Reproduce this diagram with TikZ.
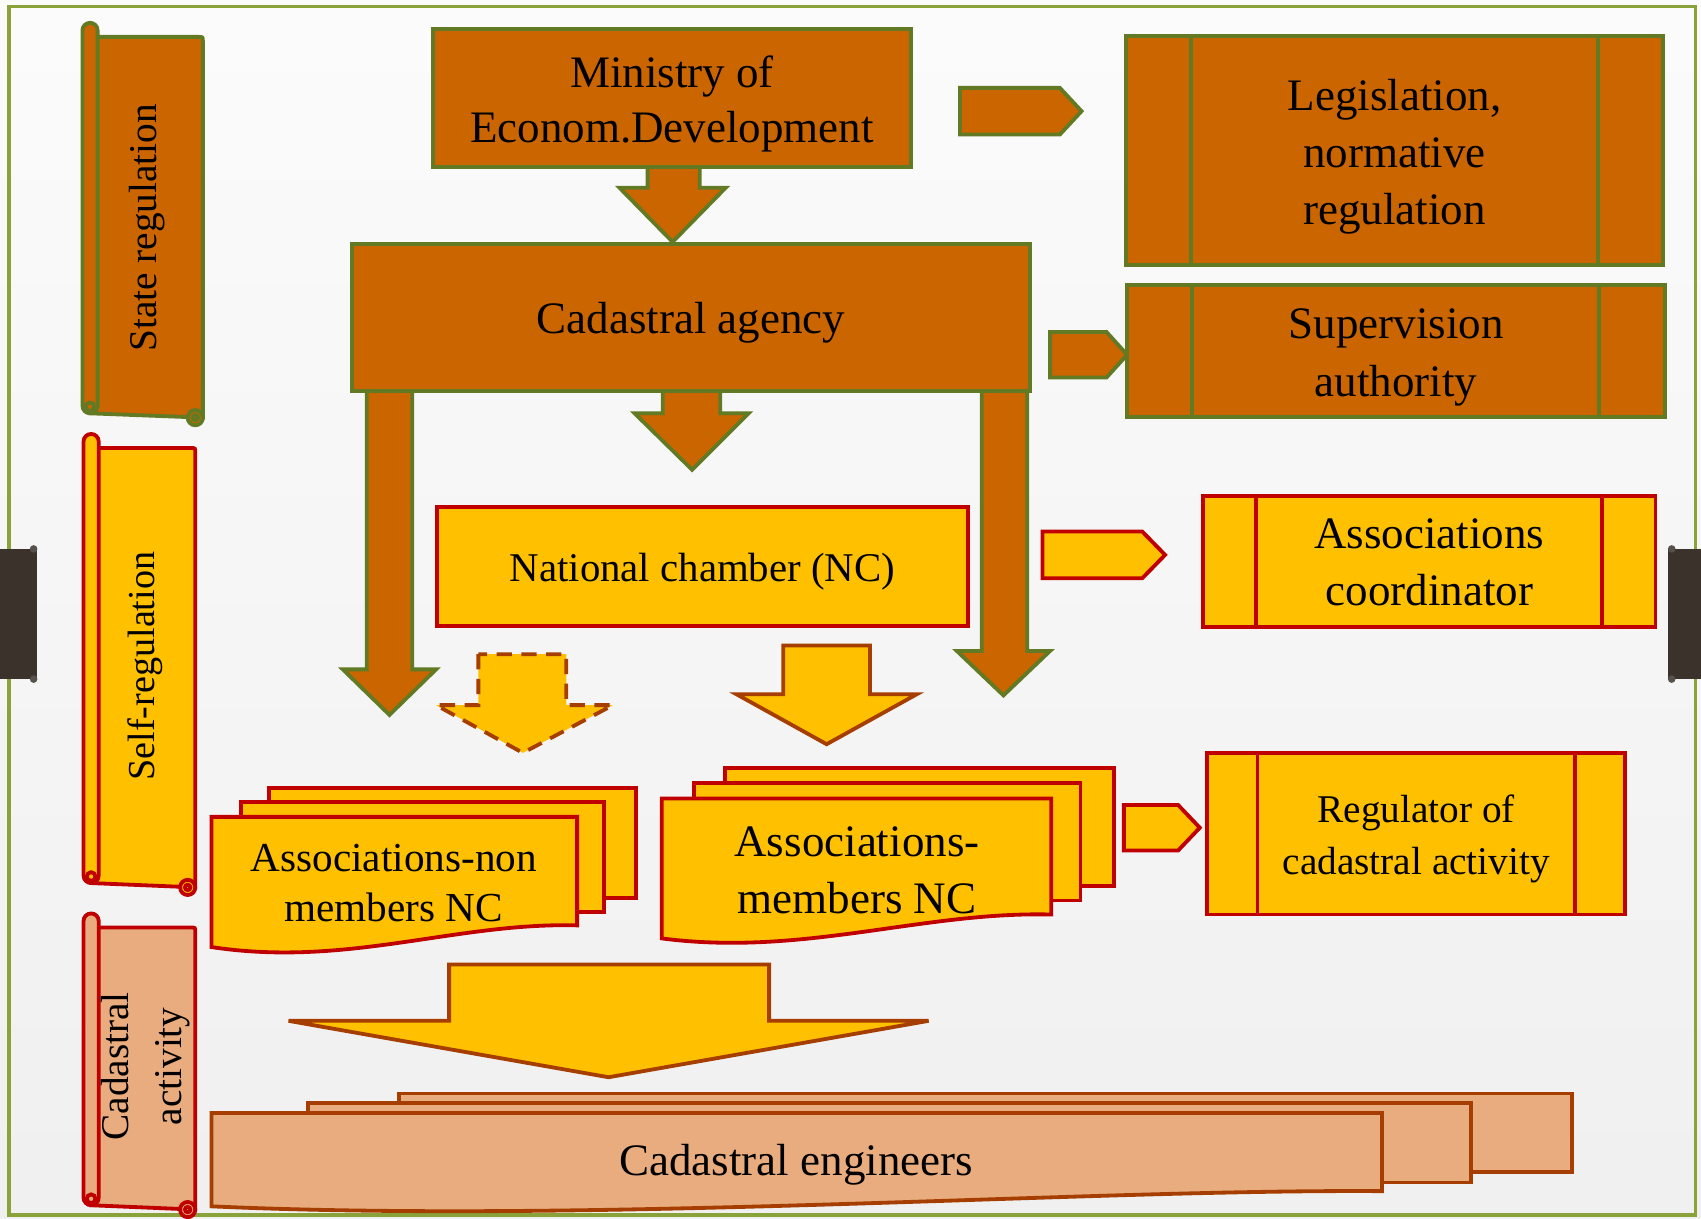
\documentclass[tikz,border=0pt]{standalone}
\usepackage{fontspec}
\setmainfont{Liberation Serif}
\definecolor{orng}{RGB}{202,101,0}
\definecolor{olv}{RGB}{98,122,36}
\definecolor{yel}{RGB}{255,192,0}
\definecolor{rd}{RGB}{192,0,0}
\definecolor{slm}{RGB}{232,172,126}
\definecolor{brn}{RGB}{165,62,0}
\definecolor{frm}{RGB}{137,163,58}
\definecolor{tabc}{RGB}{58,50,43}
\newcommand\fs[2]{\fontsize{#1}{#2}\selectfont}
% vertical scroll: #1 x left, #2 y top of roll, #3 x right, #4 y body bottom, #5 fill, #6 draw
\newcommand\vscroll[6]{%
  \filldraw[fill=#5,draw=#6,line width=1pt] (#1+7,#2+13) -- (#3-4,#2+13) .. controls (#3,#2+13) .. (#3,#2+17) -- (#3,#4+4) -- (#1+7,#4) -- cycle;
  \filldraw[fill=#5,draw=#6,line width=1pt,rounded corners=2pt] (#1,#2) rectangle (#1+14,#4);
  \draw[draw=#6,line width=1pt] (#1+7,#4-6) circle[radius=4];
  \filldraw[fill=#5,draw=#6,line width=1pt] (#3-7,#4+4) circle[radius=7];
  \draw[draw=#6,line width=1pt] (#3-7,#4+4) circle[radius=2.5];
}
\begin{document}
\begin{tikzpicture}[x=0.01cm,y=-0.01cm,
  ob/.style={fill=orng, draw=olv, line width=1pt},
  yb/.style={fill=yel, draw=rd, line width=1pt},
  ybr/.style={fill=yel, draw=brn, line width=1pt},
  sb/.style={fill=slm, draw=brn, line width=1pt},
  box/.style={rectangle, inner sep=0pt},
  txt/.style={inner sep=0pt, align=center},
  mainf/.style={font=\fs{11.8}{15}}]
\useasboundingbox (0,0) rectangle (1568,1123);
\begin{scope}[y=0.01cm]
\shade[top color=gray!3, bottom color=gray!12] (0,-1123) rectangle (1568,0);
\end{scope}
\draw[frm, line width=1pt] (8,6) rectangle (1563,1120);
% side tabs
\fill[tabc] (0,506) rectangle (34,626);
\fill[tabc!85] (31,506) circle[radius=3.5] (31,626) circle[radius=3.5];
\fill[tabc] (1538,506) rectangle (1568,626);
\fill[tabc!85] (1541,506) circle[radius=3.5] (1541,626) circle[radius=3.5];

% scrolls
\vscroll{76}{21}{187}{381}{orng}{olv}
\node[txt, rotate=90, font=\fs{10.3}{13}] (sreg) at (136,210) {State regulation};
\vscroll{77}{400}{180}{814}{yel}{rd}
\node[txt, rotate=90, font=\fs{10}{13}] (selfreg) at (134,614) {Self-regulation};
\vscroll{77}{842}{180}{1111}{slm}{rd}
\node[txt, rotate=90, font=\fs{10.3}{14}] (cadact) at (134,983) {Cadastral\\activity};

% block arrows (drawn before boxes)
\filldraw[ob] (597,154) -- (597,173) -- (571,173) -- (620,223) -- (669,173) -- (645,173) -- (645,154) -- cycle;
\filldraw[ob] (338,360) -- (338,617) -- (316,617) -- (359,659) -- (402,617) -- (380,617) -- (380,360) -- cycle;
\filldraw[ob] (905,360) -- (905,600) -- (882,600) -- (925,641) -- (968,600) -- (947,600) -- (947,360) -- cycle;
\filldraw[ob] (611,360) -- (611,381) -- (585,381) -- (638,433) -- (690,381) -- (664,381) -- (664,360) -- cycle;
\filldraw[ybr, dash pattern=on 4pt off 2.5pt] (441,603) -- (441,650) -- (402,650) -- (482,694) -- (565,650) -- (522,650) -- (522,603) -- cycle;
\filldraw[ybr] (722,595) -- (722,640) -- (679,640) -- (762,686) -- (845,640) -- (802,640) -- (802,595) -- cycle;
\filldraw[ybr] (414,889) -- (414,941) -- (266,941) -- (561,993) -- (856,941) -- (709,941) -- (709,889) -- cycle;
% pentagon arrows
\filldraw[ob] (885,81) -- (977,81) -- (997,102.5) -- (977,124) -- (885,124) -- cycle;
\filldraw[ob] (968,306) -- (1020,306) -- (1039,327) -- (1020,348) -- (968,348) -- cycle;
\filldraw[yb] (961,490) -- (1053,490) -- (1074,511.5) -- (1053,533) -- (961,533) -- cycle;
\filldraw[yb] (1036,742) -- (1086,742) -- (1106,763) -- (1086,784) -- (1036,784) -- cycle;

% boxes
\node[box, ob, minimum width=4.41cm, minimum height=1.27cm] (min) at (619.5,90.5) {};
\node[txt, mainf] (mint) at ([yshift=-0.05cm]min.center) {Ministry of\\[-0.6pt]Econom.Development};
\node[box, ob, minimum width=6.24cm, minimum height=1.35cm] (agency) at (637,292.5) {};
\node[txt, mainf] (agencyt) at ([yshift=-0.05cm]agency.center) {Cadastral agency};
\node[box, ob, minimum width=4.95cm, minimum height=2.11cm] (legis) at (1285.5,138.5) {};
\node[txt, mainf] (legist) at ([yshift=-0.06cm]legis.center) {Legislation,\\normative\\regulation};
\draw[olv, line width=1pt] ([xshift=0.62cm]legis.north west) -- ([xshift=0.62cm]legis.south west);
\draw[olv, line width=1pt] ([xshift=-0.62cm]legis.north east) -- ([xshift=-0.62cm]legis.south east);
\node[box, ob, minimum width=4.96cm, minimum height=1.21cm] (superv) at (1287,323.5) {};
\node[txt, mainf] (supervt) at ([yshift=-0.06cm]superv.center) {Supervision\\authority};
\draw[olv, line width=1pt] ([xshift=0.62cm]superv.north west) -- ([xshift=0.62cm]superv.south west);
\draw[olv, line width=1pt] ([xshift=-0.63cm]superv.north east) -- ([xshift=-0.63cm]superv.south east);
\node[box, yb, minimum width=4.89cm, minimum height=1.10cm] (nc) at (647.5,522) {};
\node[txt, font=\fs{10.7}{13}] (nct) at ([yshift=-0.05cm]nc.center) {National chamber (NC)};
\node[box, yb, minimum width=4.17cm, minimum height=1.21cm] (coord) at (1317.5,517.5) {};
\node[txt, mainf] (coordt) at ([yshift=-0.01cm]coord.center) {Associations\\coordinator};
\draw[rd, line width=1pt] ([xshift=0.51cm]coord.north west) -- ([xshift=0.51cm]coord.south west);
\draw[rd, line width=1pt] ([xshift=-0.51cm]coord.north east) -- ([xshift=-0.51cm]coord.south east);
\node[box, yb, minimum width=3.85cm, minimum height=1.49cm] (reg) at (1305.5,768.5) {};
\node[txt, font=\fs{10.3}{13.6}] (regt) at ([yshift=-0.05cm]reg.center) {Regulator of\\cadastral activity};
\draw[rd, line width=1pt] ([xshift=0.48cm]reg.north west) -- ([xshift=0.48cm]reg.south west);
\draw[rd, line width=1pt] ([xshift=-0.48cm]reg.north east) -- ([xshift=-0.48cm]reg.south east);

% multi-document: associations non members
\filldraw[yb] (248,726) rectangle (586,828);
\filldraw[yb] (222,739) rectangle (557,841);
\filldraw[yb] (195,753) -- (532,753) -- (532,853) .. controls (420,850) and (320,892) .. (195,873) -- cycle;
\node[txt, font=\fs{10.8}{13}] (anon) at (363,814) {Associations-non\\members NC};
% multi-document: associations members
\filldraw[yb] (668,708) rectangle (1027,817);
\filldraw[yb] (640,722) rectangle (996,830);
\filldraw[yb] (610,736) -- (969,736) -- (969,843) .. controls (850,840) and (740,882) .. (610,865) -- cycle;
\node[txt, mainf] (amem) at (790,802) {Associations-\\members NC};
% multi-document: cadastral engineers
\filldraw[sb] (368,1008) rectangle (1449,1080);
\filldraw[sb] (284,1017) rectangle (1356,1090);
\filldraw[sb] (195,1026) -- (1274,1026) -- (1274,1098) .. controls (1000,1096) and (550,1128) .. (195,1112) -- cycle;
\node[txt, mainf] (eng) at (734,1074) {Cadastral engineers};
\end{tikzpicture}
\end{document}
